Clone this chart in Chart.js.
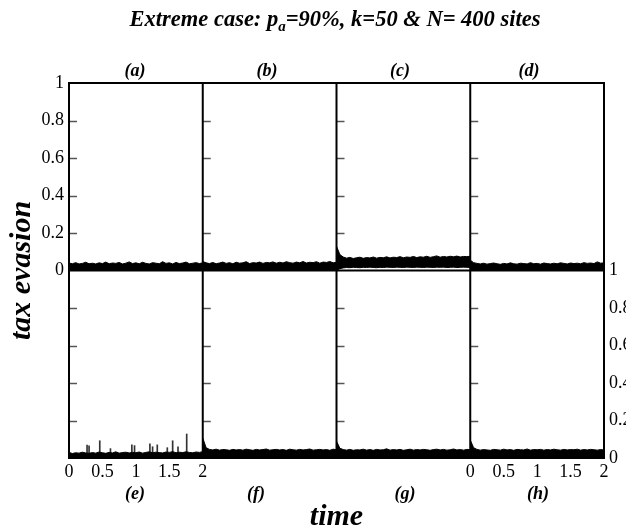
<!DOCTYPE html>
<html>
<head>
<meta charset="utf-8">
<script src="https://cdn.jsdelivr.net/npm/chart.js@4/dist/chart.umd.min.js"></script>
<style>
  body { margin: 0; background: #fff; }
  #wrap { position: relative; width: 626px; height: 530px; overflow: hidden; }
  #wrap canvas { position: absolute; left: 0; top: 0; }
  .lbl { position: absolute; font-family: 'Liberation Serif', serif; font-weight: bold; font-style: italic;
         color: #000; white-space: nowrap; transform: translate(-50%, -50%); line-height: 1; }
  .title { font-size: 22.5px; }
  .panel { font-size: 18px; }
  sub { font-size: 15px; vertical-align: -5px; }
</style>
</head>
<body>
<div id="wrap">
  <canvas id="chart" width="626" height="530"></canvas>
  <div class="lbl title" style="left:335px; top:21px;">Extreme case: p<sub>a</sub>=90%, k=50 &amp; N= 400 sites</div>
  <div class="lbl panel" style="left:135px; top:70px;">(a)</div>
  <div class="lbl panel" style="left:267px; top:70px;">(b)</div>
  <div class="lbl panel" style="left:400px; top:70px;">(c)</div>
  <div class="lbl panel" style="left:529px; top:70px;">(d)</div>
  <div class="lbl panel" style="left:135px; top:493px;">(e)</div>
  <div class="lbl panel" style="left:256px; top:493px;">(f)</div>
  <div class="lbl panel" style="left:405px; top:493px;">(g)</div>
  <div class="lbl panel" style="left:538px; top:493px;">(h)</div>
</div>
<script>
// time axis of every panel (same for all eight)
const times = [0, 0.05, 0.1, 0.15, 0.2, 0.25, 0.3, 0.35, 0.4, 0.45, 0.5, 0.55, 0.6, 0.65, 0.7, 0.75, 0.8, 0.85, 0.9, 0.95,
  1, 1.05, 1.1, 1.15, 1.2, 1.25, 1.3, 1.35, 1.4, 1.45, 1.5, 1.55, 1.6, 1.65, 1.7, 1.75, 1.8, 1.85, 1.9, 1.95, 2];

// tax evasion, upper edge of the noise band, per panel
const panelA = [0.040,0.036,0.042,0.035,0.038,0.044,0.036,0.039,0.035,0.041,0.037,0.045,0.036,0.040,0.038,0.043,0.035,0.039,0.046,0.037,
  0.041,0.036,0.044,0.038,0.035,0.042,0.039,0.036,0.047,0.038,0.041,0.035,0.043,0.037,0.040,0.045,0.036,0.039,0.042,0.037,0.041];
const panelB = [0.048,0.041,0.037,0.043,0.036,0.040,0.045,0.038,0.042,0.036,0.044,0.039,0.041,0.047,0.037,0.042,0.040,0.045,0.038,0.043,
  0.041,0.046,0.039,0.044,0.040,0.047,0.042,0.039,0.045,0.041,0.048,0.040,0.044,0.042,0.047,0.039,0.045,0.043,0.048,0.041,0.044];
const panelC = [0.130,0.085,0.072,0.066,0.070,0.064,0.068,0.071,0.065,0.069,0.067,0.072,0.066,0.070,0.068,0.073,0.067,0.071,0.069,0.074,
  0.068,0.072,0.070,0.075,0.069,0.073,0.071,0.076,0.070,0.074,0.078,0.071,0.075,0.072,0.076,0.073,0.077,0.072,0.075,0.074,0.076];
// lower edge of the band in (c), it lifts off zero
const panelCLow = [0.000,0.010,0.014,0.016,0.015,0.017,0.016,0.015,0.017,0.016,0.018,0.016,0.015,0.017,0.016,0.018,0.017,0.016,0.018,0.017,
  0.016,0.018,0.017,0.016,0.018,0.017,0.016,0.018,0.017,0.016,0.018,0.017,0.018,0.016,0.017,0.018,0.016,0.017,0.018,0.017,0.016];
const panelD = [0.055,0.042,0.038,0.035,0.039,0.034,0.037,0.040,0.036,0.033,0.038,0.035,0.041,0.036,0.034,0.039,0.037,0.035,0.042,0.036,
  0.038,0.034,0.040,0.037,0.035,0.039,0.036,0.041,0.038,0.035,0.040,0.037,0.039,0.036,0.042,0.038,0.040,0.037,0.046,0.039,0.041];
const panelE = [0.030,0.024,0.028,0.026,0.031,0.027,0.025,0.029,0.026,0.032,0.028,0.025,0.030,0.027,0.033,0.026,0.029,0.031,0.027,0.030,
  0.028,0.032,0.026,0.030,0.033,0.028,0.031,0.029,0.027,0.032,0.030,0.034,0.028,0.031,0.029,0.033,0.030,0.028,0.032,0.030,0.034];
const panelF = [0.107,0.055,0.046,0.043,0.047,0.042,0.045,0.044,0.041,0.046,0.043,0.045,0.042,0.047,0.044,0.041,0.046,0.043,0.045,0.048,
  0.042,0.044,0.046,0.043,0.045,0.041,0.047,0.044,0.042,0.046,0.043,0.045,0.048,0.042,0.044,0.046,0.043,0.045,0.041,0.047,0.044];
const panelG = [0.090,0.052,0.045,0.042,0.046,0.041,0.044,0.043,0.047,0.042,0.045,0.041,0.046,0.043,0.044,0.049,0.042,0.045,0.043,0.046,
  0.041,0.044,0.047,0.042,0.045,0.043,0.046,0.044,0.041,0.045,0.047,0.043,0.046,0.042,0.044,0.048,0.043,0.045,0.042,0.046,0.044];
const panelH = [0.096,0.055,0.046,0.042,0.045,0.043,0.041,0.046,0.044,0.042,0.047,0.043,0.045,0.041,0.046,0.044,0.043,0.048,0.042,0.045,
  0.044,0.046,0.042,0.045,0.043,0.047,0.044,0.042,0.046,0.043,0.045,0.044,0.047,0.042,0.045,0.043,0.046,0.044,0.042,0.045,0.043];

// isolated spikes in panel (e)
const spikeTimesE = [0.27, 0.30, 0.46, 0.62, 0.94, 0.98, 1.21, 1.25, 1.32, 1.47, 1.55, 1.63, 1.76];
const spikeValuesE = [0.069, 0.065, 0.092, 0.05, 0.07, 0.066, 0.075, 0.06, 0.07, 0.055, 0.092, 0.06, 0.128];

// tick labels
const yTickLabels = ['0', '0.2', '0.4', '0.6', '0.8', '1'];
const xTickLabels = ['0', '0.5', '1', '1.5', '2'];

// panels sit on one shared grid: column c covers x in [2c, 2c+2], top row is y in [1, 2]
function toPoints(vals, col, row) {
  return times.map((t, i) => ({ x: 2 * col + t, y: row + vals[i] }));
}

function band(vals, col, row) {
  return {
    type: 'line',
    data: toPoints(vals, col, row),
    borderColor: '#000',
    backgroundColor: '#000',
    borderWidth: 1,
    pointRadius: 0,
    tension: 0,
    fill: { value: row }
  };
}

const datasets = [
  band(panelA, 0, 1),
  band(panelB, 1, 1),
  band(panelD, 3, 1),
  band(panelE, 0, 0),
  band(panelF, 1, 0),
  band(panelG, 2, 0),
  band(panelH, 3, 0)
];
// (c): band between two edges
datasets.push({ type: 'line', data: toPoints(panelCLow, 2, 1), borderColor: '#000', borderWidth: 1, pointRadius: 0, fill: false });
datasets.push({ type: 'line', data: toPoints(panelC, 2, 1), borderColor: '#000', backgroundColor: '#000',
  borderWidth: 1, pointRadius: 0, fill: '-1' });
datasets.push({
  type: 'bar',
  data: spikeTimesE.map((t, i) => ({ x: t, y: spikeValuesE[i] })),
  backgroundColor: '#333',
  barThickness: 1
});

// frame, dividers and the inner tick marks of every panel
const panelFrame = {
  id: 'panelFrame',
  afterDatasetsDraw(chart) {
    const { ctx, scales: { x, y } } = chart;
    const L = x.getPixelForValue(0), R = x.getPixelForValue(8);
    const T = y.getPixelForValue(2), B = y.getPixelForValue(0);
    ctx.save();
    ctx.strokeStyle = '#555';
    ctx.lineWidth = 1.5;
    for (let c = 0; c < 4; c++) {
      const px = x.getPixelForValue(2 * c);
      for (let r = 0; r < 2; r++) {
        [0.2, 0.4, 0.6, 0.8].forEach(k => {
          const py = Math.round(y.getPixelForValue(r + k)) + 0.5;
          ctx.beginPath();
          ctx.moveTo(px, py);
          ctx.lineTo(px + 8, py);
          ctx.stroke();
        });
      }
    }
    ctx.strokeStyle = '#000';
    ctx.lineWidth = 2;
    ctx.strokeRect(L, T, R - L, B - T);
    ctx.beginPath();
    [2, 4, 6].forEach(v => {
      const px = x.getPixelForValue(v);
      ctx.moveTo(px, T);
      ctx.lineTo(px, B);
    });
    const my = y.getPixelForValue(1);
    ctx.moveTo(L, my);
    ctx.lineTo(R, my);
    ctx.stroke();
    ctx.restore();
  }
};

const tickFont = { family: 'Liberation Serif', size: 18 };
const titleFont = { family: 'Liberation Serif', size: 30, weight: 'bold', style: 'italic', lineHeight: 1 };
const noGrid = { display: false, drawTicks: false };

new Chart(document.getElementById('chart'), {
  type: 'line',
  data: { datasets: datasets },
  options: {
    responsive: false,
    animation: false,
    layout: { padding: { top: 83, left: 0, right: 0, bottom: 0 } },
    plugins: { legend: { display: false }, tooltip: { enabled: false } },
    scales: {
      x: {
        type: 'linear', min: 0, max: 8, offset: false,
        grid: noGrid, border: { display: false },
        ticks: {
          stepSize: 0.5, autoSkip: false, maxRotation: 0, padding: 3,
          color: '#000', font: tickFont,
          callback: v => (v <= 2.001 ? xTickLabels[Math.round(v * 2)] : (v >= 5.999 ? xTickLabels[Math.round((v - 6) * 2)] : ''))
        },
        title: { display: true, text: 'time', color: '#000', font: titleFont, padding: { bottom: -2 } },
        afterFit: s => { s.height = 72; }
      },
      y: {
        position: 'left', min: 0, max: 2,
        grid: noGrid, border: { display: false },
        ticks: {
          stepSize: 0.2, autoSkip: false, padding: 5, color: '#000', font: tickFont,
          callback: v => (v >= 0.999 ? yTickLabels[Math.round((v - 1) * 5)] : '')
        },
        title: { display: true, text: 'tax evasion', color: '#000', font: titleFont, padding: { top: 7 } },
        afterFit: s => { s.width = 69; }
      },
      y2: {
        position: 'right', min: 0, max: 2,
        grid: noGrid, border: { display: false },
        ticks: {
          stepSize: 0.2, autoSkip: false, padding: 5, color: '#000', font: tickFont,
          callback: v => (v <= 1.001 ? yTickLabels[Math.round(v * 5)] : '')
        },
        afterFit: s => { s.width = 22; }
      }
    }
  },
  plugins: [panelFrame]
});
</script>
</body>
</html>
